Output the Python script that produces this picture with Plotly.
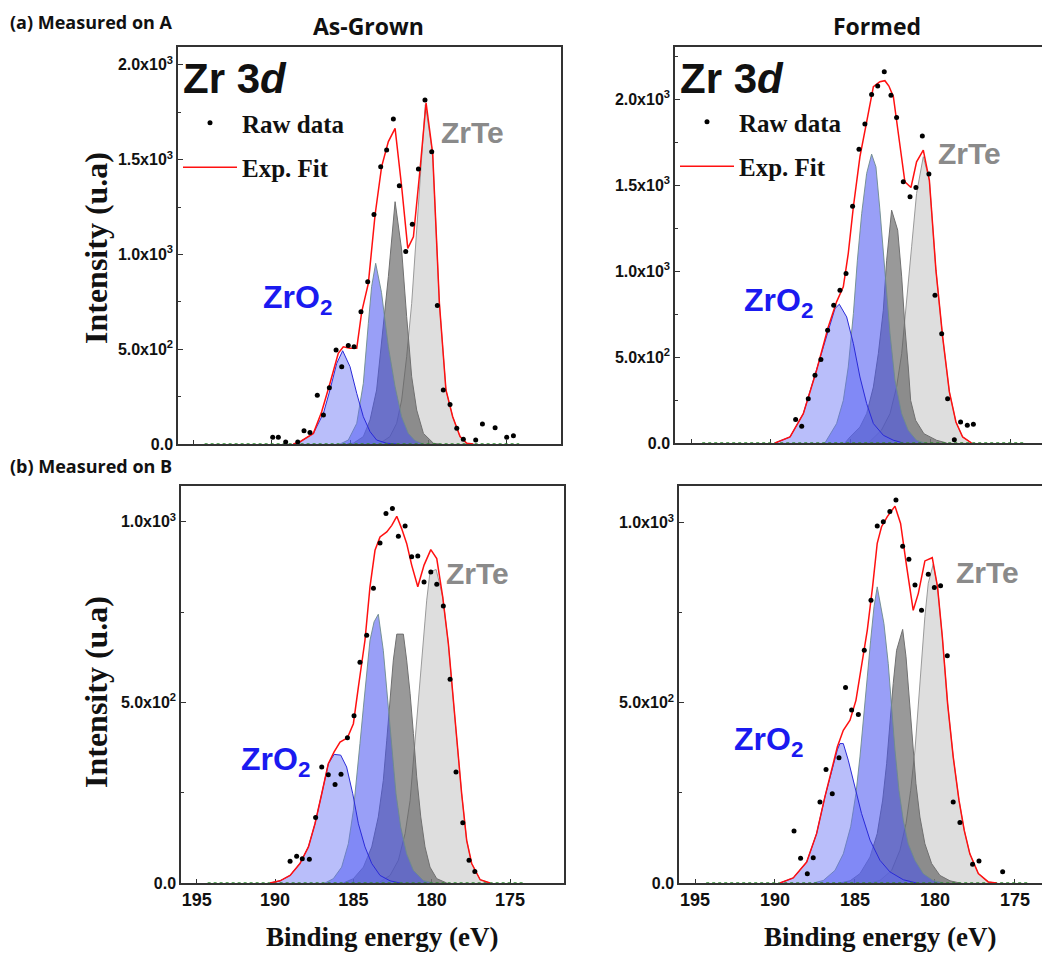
import plotly.graph_objects as go

# The page body keeps an 8 px margin, so the figure is 8 px smaller than the window
OFF = 8
W, H = 1050 - OFF, 953 - OFF

# ---------------- data (binding energy in eV, intensity in counts) ----------------
# (a) Measured on A — As-Grown
tl_raw_E = [189.95, 189.59, 189.12, 188.35, 187.95, 187.57, 187.10, 186.71, 186.33, 185.90, 185.54, 185.12,
            184.75, 184.31, 183.88, 183.48, 183.05, 182.67, 182.24, 181.86, 181.45, 181.03, 180.64, 180.22,
            179.79, 179.43, 179.05, 178.62, 178.19, 177.77, 176.98, 176.55, 175.74, 175.00, 174.57]
tl_raw_I = [35, 35, 11, 11, 70, 60, 257, 153, 297, 496, 408, 519, 513, 698, 856, 1211, 1463, 1551, 1714, 1362,
            1016, 1159, 1450, 1814, 1542, 730, 285, 209, 83, 25, 21, 105, 86, 35, 44]
tl_fit_E = [188.63, 188.20, 187.35, 186.82, 186.29, 185.76, 185.44, 185.01, 184.58, 184.26, 183.84, 183.41,
            182.99, 182.56, 182.13, 181.71, 181.32, 180.96, 180.54, 180.15, 179.73, 179.30, 178.88, 178.45,
            177.98, 177.55, 177.13]
tl_fit_I = [0, 12, 56, 170, 320, 478, 513, 505, 505, 698, 847, 1208, 1463, 1595, 1665, 1357, 1032, 1093, 1445,
            1800, 1533, 742, 285, 144, 39, 4, 0]
tl_zro2a_E = [188.63, 188.20, 187.35, 186.71, 186.29, 185.86, 185.48, 185.01, 184.58, 184.16, 183.73, 183.31,
              182.67, 182.03]
tl_zro2a_I = [0, 12, 56, 162, 285, 425, 492, 408, 267, 144, 65, 21, 4, 0]
tl_zro2b_E = [185.65, 185.12, 184.58, 184.16, 183.84, 183.63, 183.37, 183.00, 182.56, 182.13, 181.71, 181.28,
              180.86, 180.32]
tl_zro2b_I = [0, 21, 109, 320, 636, 830, 953, 800, 513, 302, 144, 56, 18, 0]
tl_zrtea_E = [185.20, 184.80, 184.16, 183.73, 183.31, 182.99, 182.56, 182.13, 181.71, 181.39, 181.07, 180.75,
              180.32, 179.68, 179.30]
tl_zrtea_I = [0, 4, 39, 127, 285, 531, 883, 1278, 1023, 672, 355, 179, 56, 4, 0]
tl_zrteb_E = [183.09, 182.46, 182.03, 181.71, 181.39, 181.07, 180.75, 180.43, 180.20, 179.73, 179.30, 178.88,
              178.45, 177.98, 177.55, 177.13]
tl_zrteb_I = [4, 39, 109, 232, 461, 742, 1129, 1515, 1790, 1533, 742, 285, 144, 39, 4, 0]

# (a) Measured on A — Formed
tr_raw_E = [188.46, 188.08, 187.67, 187.25, 186.88, 186.46, 186.08, 185.69, 185.31, 184.90, 184.50, 184.13,
            183.71, 183.33, 182.92, 182.50, 182.15, 181.73, 181.31, 180.94, 180.54, 180.13, 179.75, 179.33,
            178.96, 178.54, 178.15, 177.73, 177.35]
tr_raw_I = [136, 97, 258, 394, 485, 656, 801, 889, 986, 1377, 1709, 1855, 2027, 2076, 2159, 2023, 1893, 1519,
            1432, 1486, 1785, 1564, 859, 636, 258, 19, 122, 103, 109]
tr_fit_E = [189.75, 188.81, 187.98, 187.15, 186.42, 185.90, 185.48, 185.17, 184.85, 184.44, 184.02, 183.60,
            183.19, 182.88, 182.63, 182.35, 182.04, 181.63, 181.25, 180.90, 180.48, 180.10, 179.69, 179.27,
            178.85, 178.44, 178.02, 177.46]
tr_fit_I = [0, 35, 171, 423, 675, 821, 908, 1102, 1374, 1665, 1868, 2072, 2101, 2107, 2076, 2014, 1800, 1519,
            1486, 1635, 1703, 1528, 1005, 617, 297, 122, 35, 0]
tr_zro2a_E = [189.75, 188.81, 187.98, 187.15, 186.42, 186.00, 185.73, 185.27, 184.85, 184.44, 184.02, 183.60,
              182.98, 182.35, 181.73]
tr_zro2a_I = [0, 35, 171, 423, 656, 782, 807, 733, 578, 384, 229, 113, 45, 16, 0]
tr_zro2b_E = [186.63, 185.90, 185.48, 185.17, 184.85, 184.60, 184.33, 184.02, 183.71, 183.44, 183.19, 182.88,
              182.56, 182.25, 181.83, 181.42, 180.90, 180.38]
tr_zro2b_I = [0, 113, 248, 442, 753, 1063, 1335, 1568, 1680, 1606, 1354, 986, 636, 365, 171, 74, 16, 0]
tr_zrtea_E = [185.38, 185.06, 184.44, 184.02, 183.60, 183.29, 182.98, 182.77, 182.46, 182.08, 181.83, 181.63,
              181.42, 181.27, 180.96, 180.44, 179.65, 179.02]
tr_zrtea_I = [0, 35, 93, 171, 326, 520, 772, 1063, 1354, 1238, 966, 675, 442, 248, 132, 54, 16, 0]
tr_zrteb_E = [183.92, 183.10, 182.56, 182.15, 181.83, 181.52, 181.21, 180.90, 180.48, 180.10, 179.69, 179.27,
              178.85, 178.44, 178.02, 177.46]
tr_zrteb_I = [0, 74, 171, 326, 520, 811, 1141, 1451, 1665, 1528, 1005, 617, 297, 122, 35, 0]

# (b) Measured on B — As-Grown
bl_raw_E = [189.04, 188.62, 188.26, 187.81, 187.41, 187.02, 186.60, 186.17, 185.79, 185.38, 184.96, 184.58,
            184.15, 183.72, 183.30, 182.92, 182.51, 182.13, 181.70, 181.28, 180.89, 180.49, 180.06, 179.68,
            179.26, 178.83, 178.45, 178.02, 177.62, 177.25]
bl_raw_I = [60, 74, 67, 66, 181, 321, 300, 273, 301, 402, 463, 611, 686, 816, 941, 1023, 1037, 960, 988, 903,
            905, 833, 861, 827, 767, 564, 307, 167, 63, 32]
bl_fit_E = [190.32, 189.68, 189.04, 188.41, 187.87, 187.45, 187.02, 186.60, 186.23, 185.85, 185.38, 185.00,
            184.68, 184.26, 183.94, 183.62, 183.30, 182.87, 182.55, 182.23, 181.92, 181.60, 181.28, 180.89,
            180.49, 180.06, 179.68, 179.30, 178.94, 178.51, 178.09, 177.77, 177.45, 176.91, 176.28]
bl_fit_I = [0, 6, 21, 54, 100, 164, 247, 330, 363, 390, 402, 441, 543, 672, 820, 921, 958, 972, 990, 1015,
            981, 940, 880, 820, 880, 923, 898, 792, 663, 450, 247, 118, 54, 9, 0]
bl_zro2a_E = [190.32, 189.68, 189.04, 188.41, 187.87, 187.45, 187.02, 186.60, 186.23, 185.81, 185.43, 185.04,
              184.68, 184.26, 183.83, 183.30, 182.66, 182.02]
bl_zro2a_I = [0, 6, 21, 54, 100, 164, 247, 330, 356, 354, 321, 247, 164, 100, 54, 21, 6, 0]
bl_zro2b_E = [186.81, 186.28, 185.75, 185.32, 185.00, 184.79, 184.58, 184.36, 184.15, 183.94, 183.68, 183.41,
              183.09, 182.83, 182.55, 182.28, 181.98, 181.60, 181.17, 180.53, 179.90]
bl_zro2b_I = [0, 12, 44, 109, 201, 284, 386, 487, 580, 672, 723, 744, 644, 515, 367, 247, 155, 81, 35, 7, 0]
bl_zrtea_E = [185.64, 185.00, 184.36, 183.83, 183.41, 183.09, 182.87, 182.66, 182.45, 182.23, 181.81, 181.60,
              181.38, 181.17, 180.96, 180.70, 180.43, 180.11, 179.68, 179.04]
bl_zrtea_I = [0, 12, 44, 100, 183, 284, 395, 506, 617, 689, 689, 617, 524, 414, 294, 183, 100, 44, 12, 0]
bl_zrteb_E = [183.30, 182.66, 182.13, 181.70, 181.38, 181.17, 180.96, 180.75, 180.53, 180.32, 180.11, 179.72,
              179.30, 178.94, 178.51, 178.09, 177.77, 177.45, 176.91, 176.28]
bl_zrteb_I = [3, 21, 63, 137, 229, 340, 460, 580, 690, 783, 861, 868, 792, 663, 450, 247, 118, 54, 9, 0]

# (b) Measured on B — Formed
br_raw_E = [188.81, 188.40, 187.98, 187.61, 187.19, 186.81, 186.42, 186.00, 185.59, 185.21, 184.79, 184.42,
            184.00, 183.61, 183.23, 182.82, 182.44, 182.02, 181.63, 181.25, 180.84, 180.42, 180.04, 179.65,
            179.23, 178.86, 178.44, 177.65, 177.25, 175.77]
br_raw_I = [144, 69, 26, 70, 225, 315, 248, 348, 543, 480, 468, 646, 785, 991, 1003, 1031, 1063, 935, 899, 827,
            757, 857, 820, 825, 631, 225, 168, 52, 61, 31]
br_fit_E = [189.69, 188.86, 188.02, 187.40, 186.88, 186.46, 186.10, 185.73, 185.31, 184.94, 184.59, 184.23,
            183.90, 183.61, 183.34, 182.98, 182.50, 182.15, 181.77, 181.36, 181.04, 180.63, 180.17, 179.84,
            179.54, 179.21, 178.86, 178.50, 178.17, 177.82, 177.29, 176.67, 176.15]
br_fit_I = [0, 14, 58, 137, 239, 313, 378, 424, 452, 507, 600, 702, 822, 943, 989, 1017, 1046, 998, 878, 757,
            804, 894, 903, 822, 683, 498, 350, 230, 146, 81, 26, 3, 0]
br_zro2a_E = [189.69, 188.86, 188.02, 187.40, 186.88, 186.46, 186.10, 185.94, 185.73, 185.42, 185.00, 184.59,
              184.06, 183.44, 182.82, 181.98, 181.15]
br_zro2a_I = [0, 14, 58, 137, 239, 313, 370, 387, 387, 341, 267, 193, 119, 63, 31, 9, 0]
br_zro2b_E = [187.60, 186.98, 186.25, 185.73, 185.27, 184.94, 184.69, 184.44, 184.23, 184.02, 183.81, 183.61,
              183.19, 182.92, 182.71, 182.50, 182.25, 181.98, 181.67, 181.25, 180.73, 180.11, 179.48]
br_zro2b_I = [0, 7, 35, 81, 156, 248, 350, 461, 572, 674, 767, 822, 720, 609, 489, 369, 257, 174, 109, 63, 26,
              7, 0]
br_zrtea_E = [185.94, 185.31, 184.69, 184.06, 183.61, 183.27, 183.02, 182.82, 182.61, 182.40, 182.02, 181.81,
              181.60, 181.40, 181.19, 180.94, 180.63, 180.21, 179.69, 179.06, 178.44]
br_zrtea_I = [0, 6, 26, 72, 137, 230, 332, 443, 554, 646, 704, 628, 517, 387, 276, 183, 109, 54, 21, 6, 0]
br_zrteb_E = [184.06, 183.44, 182.71, 182.19, 181.81, 181.52, 181.25, 181.04, 180.84, 180.63, 180.42, 180.11,
              179.84, 179.54, 179.21, 178.86, 178.50, 178.17, 177.82, 177.29, 176.67, 176.15]
br_zrteb_I = [0, 7, 35, 91, 165, 257, 369, 498, 628, 739, 832, 885, 822, 683, 498, 350, 230, 146, 81, 26, 3, 0]

# baseline (background) of the fits
baseline_E = [194.3, 174.2]
baseline_I = [0, 0]

# tick labels
x_ticks = [195, 190, 185, 180, 175]
y_ticks_top = [0, 500, 1000, 1500, 2000]
y_text_top = ["0.0", "5.0x10<sup>2</sup>", "1.0x10<sup>3</sup>", "1.5x10<sup>3</sup>", "2.0x10<sup>3</sup>"]
y_minor_top = [250, 750, 1250, 1750, 2250]
y_ticks_bot = [0, 500, 1000]
y_text_bot = ["0.0", "5.0x10<sup>2</sup>", "1.0x10<sup>3</sup>"]
y_minor_bot = [250, 750]

# ---------------- figure ----------------
C_ZRO2A = dict(fill="rgba(100,110,245,0.45)", line="#2a2ad8")
C_ZRO2B = dict(fill="rgba(70,80,240,0.55)", line="rgba(110,140,140,0.9)")
C_ZRTEA = dict(fill="rgba(85,85,85,0.6)", line="#707070")
C_ZRTEB = dict(fill="rgba(200,200,200,0.6)", line="#9a9a9a")

SANS = "Liberation Sans"
SERIF = "Liberation Serif"


def fx(px):
    return (px - OFF) / W


def fy(py):
    return 1 - (py - OFF) / H


panels = [
    dict(k="", raw=(tl_raw_E, tl_raw_I), fit=(tl_fit_E, tl_fit_I),
         comps=[(tl_zrteb_E, tl_zrteb_I, C_ZRTEB), (tl_zrtea_E, tl_zrtea_I, C_ZRTEA),
                (tl_zro2b_E, tl_zro2b_I, C_ZRO2B), (tl_zro2a_E, tl_zro2a_I, C_ZRO2A)],
         px=(178, 561), py=(47, 444), xr=[196, 171.53], yr=[0, 2094], yt=(y_ticks_top, y_text_top, y_minor_top),
         xlabels=False, right=False, legend="legend"),
    dict(k="2", raw=(tr_raw_E, tr_raw_I), fit=(tr_fit_E, tr_fit_I),
         comps=[(tr_zrteb_E, tr_zrteb_I, C_ZRTEB), (tr_zrtea_E, tr_zrtea_I, C_ZRTEA),
                (tr_zro2b_E, tr_zro2b_I, C_ZRO2B), (tr_zro2a_E, tr_zro2a_I, C_ZRO2A)],
         px=(675, 1050), py=(47, 443), xr=[196, 172.56], yr=[0, 2303], yt=(y_ticks_top, y_text_top, y_minor_top),
         xlabels=False, right=True, legend="legend2"),
    dict(k="3", raw=(bl_raw_E, bl_raw_I), fit=(bl_fit_E, bl_fit_I),
         comps=[(bl_zrteb_E, bl_zrteb_I, C_ZRTEB), (bl_zrtea_E, bl_zrtea_I, C_ZRTEA),
                (bl_zro2b_E, bl_zro2b_I, C_ZRO2B), (bl_zro2a_E, bl_zro2a_I, C_ZRO2A)],
         px=(181, 564), py=(486, 883), xr=[196, 171.56], yr=[0, 1099], yt=(y_ticks_bot, y_text_bot, y_minor_bot),
         xlabels=True, right=False, legend=None),
    dict(k="4", raw=(br_raw_E, br_raw_I), fit=(br_fit_E, br_fit_I),
         comps=[(br_zrteb_E, br_zrteb_I, C_ZRTEB), (br_zrtea_E, br_zrtea_I, C_ZRTEA),
                (br_zro2b_E, br_zro2b_I, C_ZRO2B), (br_zro2a_E, br_zro2a_I, C_ZRO2A)],
         px=(679, 1050), py=(486, 883), xr=[196, 172.81], yr=[0, 1102], yt=(y_ticks_bot, y_text_bot, y_minor_bot),
         xlabels=True, right=True, legend=None),
]

fig = go.Figure()
layout_axes = {}

for p in panels:
    k = p["k"]
    xa, ya = "x" + k, "y" + k
    for (ex, iy, col) in p["comps"]:
        fig.add_trace(go.Scatter(x=ex, y=iy, xaxis=xa, yaxis=ya, mode="lines", fill="tozeroy",
                                 fillcolor=col["fill"], line=dict(color=col["line"], width=1),
                                 showlegend=False, hoverinfo="skip"))
    fig.add_trace(go.Scatter(x=baseline_E, y=baseline_I, xaxis=xa, yaxis=ya, mode="lines",
                             line=dict(color="#2e8b2e", width=1.5, dash="dot"), showlegend=False,
                             hoverinfo="skip"))
    show = p["legend"] is not None
    leg = p["legend"] if show else "legend"
    fig.add_trace(go.Scatter(x=p["fit"][0], y=p["fit"][1], xaxis=xa, yaxis=ya, mode="lines",
                             line=dict(color="#ff1010", width=1.5), name="Exp. Fit",
                             showlegend=show, legend=leg, legendgroup="fit" + k, legendrank=2))
    fig.add_trace(go.Scatter(x=p["raw"][0], y=p["raw"][1], xaxis=xa, yaxis=ya, mode="markers",
                             marker=dict(color="black", size=5), name="Raw data",
                             showlegend=show, legend=leg, legendgroup="raw" + k, legendrank=1))

    x0, x1 = p["px"]
    y0, y1 = p["py"]
    layout_axes["xaxis" + k] = dict(
        domain=[fx(x0), min(fx(x1), 1.0)], range=p["xr"], anchor=ya, showgrid=False, zeroline=False,
        automargin=False,
        showline=True, linecolor="#333", linewidth=1.5, mirror=True,
        ticks="inside", ticklen=4, tickcolor="#333", tickmode="array", tickvals=x_ticks,
        showticklabels=p["xlabels"], tickfont=dict(family=SANS, size=18, color="#111", weight="bold"),
        layer="below traces")
    tv, tt, tm = p["yt"]
    layout_axes["yaxis" + k] = dict(
        domain=[fy(y1), fy(y0)], range=p["yr"], anchor=xa, showgrid=False, zeroline=False,
        automargin=False,
        showline=True, linecolor="#333", linewidth=1.5, mirror=(not p["right"]),
        ticks="inside", ticklen=5, tickcolor="#333", tickmode="array", tickvals=tv, ticktext=tt,
        tickfont=dict(family=SANS, size=16, color="#111", weight="bold"),
        minor=dict(ticks="inside", ticklen=3, tickcolor="#333", tickvals=tm),
        layer="below traces")

annotations = []


def ann(text, xpx, ypx, size, family=SANS, color="#111", xanchor="left", angle=0, yanchor="middle"):
    annotations.append(dict(text="<b>%s</b>" % text, x=fx(xpx), y=min(fy(ypx), 1.0),
                            xref="paper", yref="paper", xanchor=xanchor, yanchor=yanchor,
                            showarrow=False, textangle=angle,
                            font=dict(family=family, size=size, color=color)))


OPEN = "Open Sans"
ann("(a) Measured on A", 8, OFF, 18, family=OPEN, yanchor="top")
ann("(b) Measured on B", 8, 466, 18, family=OPEN)
ann("As-Grown", 368, OFF, 23, family=OPEN, xanchor="center", yanchor="top")
ann("Formed", 877, OFF, 23, family=OPEN, xanchor="center", yanchor="top")

ann("Zr 3<i>d</i>", 181, 78, 42)
ann("Zr 3<i>d</i>", 678, 78, 42)

GRAY = "#8a8a8a"
BLUE = "#1a1af0"
ann("ZrTe", 439, 132, 30, color=GRAY)
ann("ZrTe", 936, 153, 30, color=GRAY)
ann("ZrTe", 444, 573, 30, color=GRAY)
ann("ZrTe", 954, 572, 30, color=GRAY)
ann("ZrO<sub>2</sub>", 261, 300, 32, color=BLUE)
ann("ZrO<sub>2</sub>", 742, 303, 32, color=BLUE)
ann("ZrO<sub>2</sub>", 239, 761, 32, color=BLUE)
ann("ZrO<sub>2</sub>", 732, 741, 32, color=BLUE)

ann("Intensity (u.a)", 96, 248, 32, family=SERIF, xanchor="center", angle=-90)
ann("Intensity (u.a)", 96, 692, 32, family=SERIF, xanchor="center", angle=-90)
ann("Binding energy (eV)", 382, 937, 27, family=SERIF, xanchor="center")
ann("Binding energy (eV)", 880, 937, 27, family=SERIF, xanchor="center")

legend_style = dict(font=dict(family=SERIF, size=25, color="#111", weight="bold"),
                    bgcolor="rgba(0,0,0,0)", borderwidth=0, traceorder="grouped",
                    tracegroupgap=9, itemwidth=54, xanchor="left", yanchor="top", itemclick=False)

fig.update_layout(
    width=W, height=H, margin=dict(l=0, r=0, t=0, b=0),
    paper_bgcolor="white", plot_bgcolor="white",
    annotations=annotations,
    legend=dict(x=fx(178), y=fy(100), **legend_style),
    legend2=dict(x=fx(675), y=fy(99), **legend_style),
    **layout_axes,
)

fig.write_html("out.html")
